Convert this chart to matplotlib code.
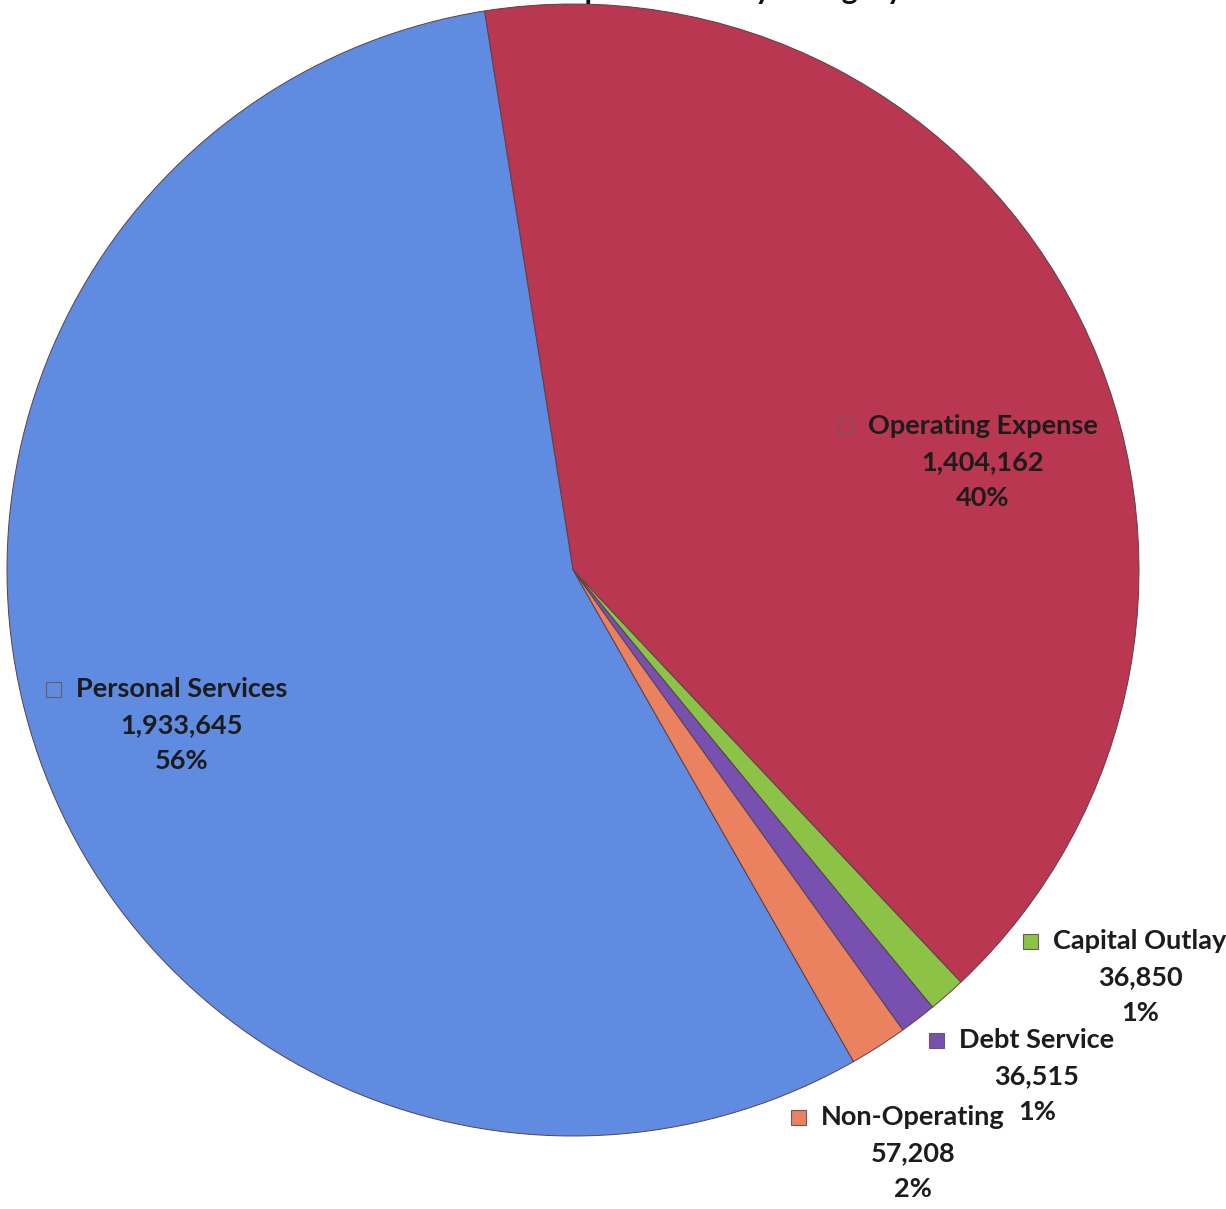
import matplotlib
matplotlib.use("Agg")
import matplotlib.pyplot as plt
from matplotlib.patches import Rectangle

# Expenditure categories, in clockwise drawing order
categories = ["Operating Expense", "Capital Outlay", "Debt Service",
              "Non-Operating", "Personal Services"]
amounts = [1404162, 36850, 36515, 57208, 1933645]
colors = ["#B93750", "#8CC346", "#7850AF", "#EB825F", "#5F8CE1"]
title = "Expenditures by Category"

W, H = 1226, 1209
fig = plt.figure(figsize=(W / 100, H / 100), dpi=100)
ax = fig.add_axes([0, 0, 1, 1])


def py(y):
    """Convert a top-down pixel row into the axes' y coordinate."""
    return H - y


cx, cy, r = 573, 570, 566
ax.pie(amounts, colors=colors, startangle=99, counterclock=False,
       center=(cx, py(cy)), radius=r, frame=True,
       wedgeprops=dict(edgecolor="#5a4048", linewidth=0.7))
ax.set_xlim(0, W)
ax.set_ylim(0, H)
ax.set_aspect("equal")
ax.axis("off")

font = ["Lato", "DejaVu Sans"]
fs = 19.5
tc = "#1c1c1c"
total = sum(amounts)

# label anchor (centre x, first-line y) for each category
anchors = {
    "Operating Expense": (983, 426),
    "Capital Outlay": (1140, 941),
    "Debt Service": (1037, 1040),
    "Non-Operating": (913, 1117),
    "Personal Services": (182, 689),
}
line_gap = 36

fig.canvas.draw()
for name, val, col in zip(categories, amounts, colors):
    x, y = anchors[name]
    t = ax.text(x, py(y), name, ha="center", va="center", fontsize=fs,
                fontweight="bold", family=font, color=tc)
    ax.text(x, py(y + line_gap), f"{val:,}", ha="center", va="center",
            fontsize=fs, fontweight="bold", family=font, color=tc)
    ax.text(x, py(y + 2 * line_gap), f"{val / total:.0%}", ha="center",
            va="center", fontsize=fs, fontweight="bold", family=font, color=tc)
    # legend key square to the left of the category name
    bb = t.get_window_extent(fig.canvas.get_renderer()).transformed(
        ax.transData.inverted())
    sq = 15
    ax.add_patch(Rectangle((bb.x0 - 15 - sq, py(y) - sq / 2), sq, sq,
                           facecolor=col, edgecolor="#6a5a60", linewidth=0.8,
                           zorder=5))

# title sits almost entirely above the top edge of the image
ax.text(551, py(-1), title, ha="left", va="baseline", fontsize=22,
        fontweight="bold", family=font, color="#111111", clip_on=False)

fig.savefig("out.png", dpi=100)
